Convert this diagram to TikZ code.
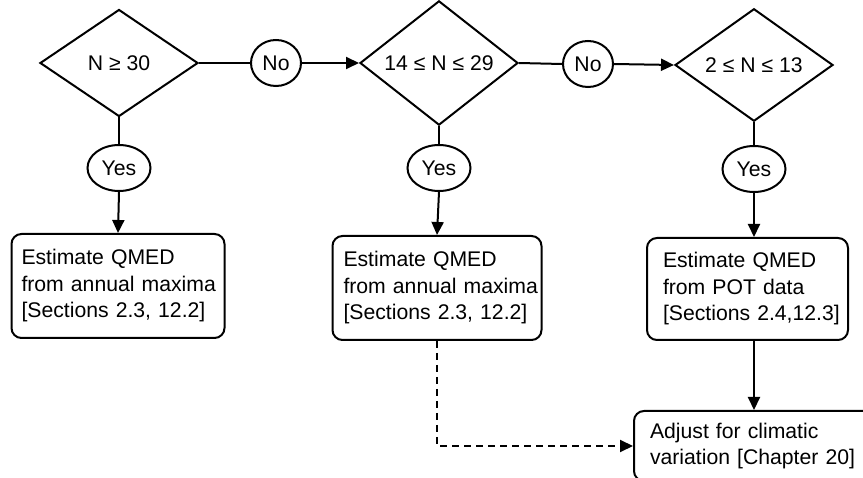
\documentclass[tikz,border=0pt]{standalone}
\usepackage{fontspec}
\setmainfont{Liberation Sans}
\usetikzlibrary{shapes.geometric,arrows.meta}
\begin{document}
\begin{tikzpicture}[x=1pt,y=-1pt,
  every node/.style={font=\fontsize{21.2}{26.5}\selectfont},
  line/.style={line width=2pt},
  arr/.style={line width=2pt,-{Triangle[length=13pt,width=12pt]}},
  dec/.style={diamond,draw,line width=2pt,inner sep=0pt,minimum width=158pt,minimum height=107pt},
  oval/.style={ellipse,draw,line width=2pt,inner sep=0pt,minimum height=46pt},
  stepbox/.style={draw,rounded corners=10pt,line width=2pt,align=left,inner ysep=0pt}]
  \useasboundingbox (0,0) rectangle (863,478);

  % decisions
  \node[dec] (d1) at (119,63) {N ≥ 30};
  \node[dec] (d2) at (439,63) {14 ≤ N ≤ 29};
  \node[dec] (d3) at (754,65) {2 ≤ N ≤ 13};

  % answers
  \node[oval,minimum width=50pt] (no1) at (276,63) {No};
  \node[oval,minimum width=50pt] (no2) at (588,64) {No};
  \node[oval,minimum width=63pt] (y1) at (119,168) {Yes};
  \node[oval,minimum width=63pt] (y2) at (439,168) {Yes};
  \node[oval,minimum width=63pt] (y3) at (754,169) {Yes};

  % actions (each line kept whole in an \mbox)
  \node[stepbox,inner xsep=10pt,minimum width=213pt,minimum height=104pt,text width=193pt] (b1) at (118,286)
    {\mbox{Estimate QMED}\\\mbox{from annual maxima}\\\mbox{[Sections 2.3, 12.2]}};
  \node[stepbox,inner xsep=11pt,minimum width=209pt,minimum height=104pt,text width=187pt] (b2) at (437,288)
    {\mbox{Estimate QMED}\\\mbox{from annual maxima}\\\mbox{[Sections 2.3, 12.2]}};
  \node[stepbox,inner xsep=16pt,minimum width=201pt,minimum height=102pt,text width=169pt] (b3) at (747.5,289)
    {\mbox{Estimate QMED}\\\mbox{from POT data}\\\mbox{[Sections 2.4,12.3]}};
  \node[stepbox,inner xsep=16pt,anchor=north west,minimum width=250pt,minimum height=70pt,text width=218pt] (b4) at (633,410)
    {\mbox{Adjust for climatic}\\\mbox{variation [Chapter 20]}};

  % connectors
  \draw[line] (d1.east) -- (no1.west);
  \draw[arr] (no1.east) -- (d2.west);
  \draw[line] (d2.east) -- (no2.west);
  \draw[arr] (no2.east) -- (d3.west);
  \draw[line] (d1.south) -- (y1.north);
  \draw[line] (d2.south) -- (y2.north);
  \draw[line] (d3.south) -- (y3.north);
  \draw[arr] (y1.south) -- (b1.north);
  \draw[arr] (y2.south) -- (b2.north);
  \draw[arr] (y3.south) -- (y3.south |- b3.north);
  \draw[arr] (y3.south |- b3.south) -- (y3.south |- b4.north);
  \draw[arr,dash pattern=on 7pt off 5pt] (b2.south) |- (b4.west);
\end{tikzpicture}
\end{document}
